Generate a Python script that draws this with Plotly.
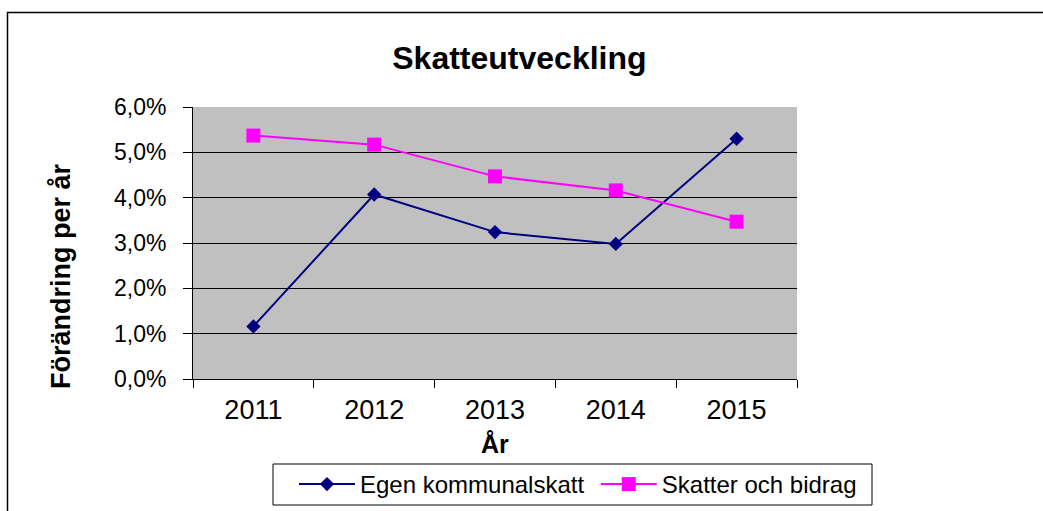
import plotly.graph_objects as go

# Data (percent change per year)
years = ["2011", "2012", "2013", "2014", "2015"]
egen_kommunalskatt = [1.16, 4.07, 3.24, 2.98, 5.30]
skatter_och_bidrag = [5.37, 5.17, 4.47, 4.16, 3.47]
y_ticks = [0, 1, 2, 3, 4, 5, 6]

FONT = "Liberation Sans, Arial, sans-serif"

fig = go.Figure()
fig.add_trace(go.Scatter(
    x=years, y=[v / 100 for v in egen_kommunalskatt],
    mode="lines+markers", name="Egen kommunalskatt\u00a0",
    line=dict(color="#000080", width=2),
    marker=dict(symbol="diamond", size=11, color="#000080"),
))
fig.add_trace(go.Scatter(
    x=years, y=[v / 100 for v in skatter_och_bidrag],
    mode="lines+markers", name="Skatter och bidrag",
    line=dict(color="#FF00FF", width=2),
    marker=dict(symbol="square", size=14, color="#FF00FF"),
))

fig.update_layout(
    width=1043, height=511,
    margin=dict(l=193, r=246, t=107, b=132),
    paper_bgcolor="white",
    plot_bgcolor="#C0C0C0",
    separators=", ",
    font=dict(family=FONT, color="black"),
    title=dict(text="<b>Skatteutveckling</b>", x=0.498, y=1 - 58 / 511,
               xanchor="center", yanchor="middle", font=dict(size=32)),
    showlegend=True,
    legend=dict(orientation="h", xref="container", yref="container",
                x=294 / 1043, y=1 - 462 / 511,
                xanchor="left", yanchor="top", borderwidth=0,
                bgcolor="rgba(0,0,0,0)", font=dict(size=24), itemwidth=56,
                tracegroupgap=0),
)

fig.update_xaxes(
    type="category", range=[-0.5, 4.5],
    showgrid=False, showline=True, linecolor="black", linewidth=1,
    ticks="outside", tickson="boundaries", ticklen=8, tickcolor="black",
    tickfont=dict(size=27), ticklabelstandoff=7,
)
fig.update_yaxes(
    range=[0, 0.06], tickvals=[t / 100 for t in y_ticks], tickformat=".1%",
    showgrid=True, gridcolor="black", gridwidth=1,
    showline=True, linecolor="black", linewidth=1,
    ticks="outside", ticklen=9, tickcolor="black",
    tickfont=dict(size=23), ticklabelstandoff=12, zeroline=False,
)

# axis titles as annotations (y title sits below the axis centre in the reference)
fig.add_annotation(text="<b>Förändring per år</b>", textangle=-90, showarrow=False,
                   xref="paper", yref="paper", x=(61 - 193) / 604, y=(379 - 276) / 272,
                   xanchor="center", yanchor="middle", font=dict(size=27))
fig.add_annotation(text="<b>År</b>", showarrow=False,
                   xref="paper", yref="paper", x=0.5, y=(379 - 444) / 272,
                   xanchor="center", yanchor="middle", font=dict(size=25))

# legend box
fig.add_shape(type="rect", xref="paper", yref="paper",
              x0=(273 - 193) / 604, x1=(872 - 193) / 604,
              y0=(379 - 505) / 272, y1=(379 - 464) / 272,
              line=dict(color="black", width=1), fillcolor="white", layer="below")

# outer chart frame (top and left edges visible, others run off the image)
fig.add_shape(type="rect", xref="paper", yref="paper",
              x0=(7.5 - 193) / 604, x1=(1060 - 193) / 604,
              y0=(379 - 530) / 272, y1=(379 - 12.5) / 272,
              line=dict(color="black", width=1.5), layer="below")

fig.write_html("out.html", config={"displayModeBar": False},
               post_script="document.body.style.margin='0';")
